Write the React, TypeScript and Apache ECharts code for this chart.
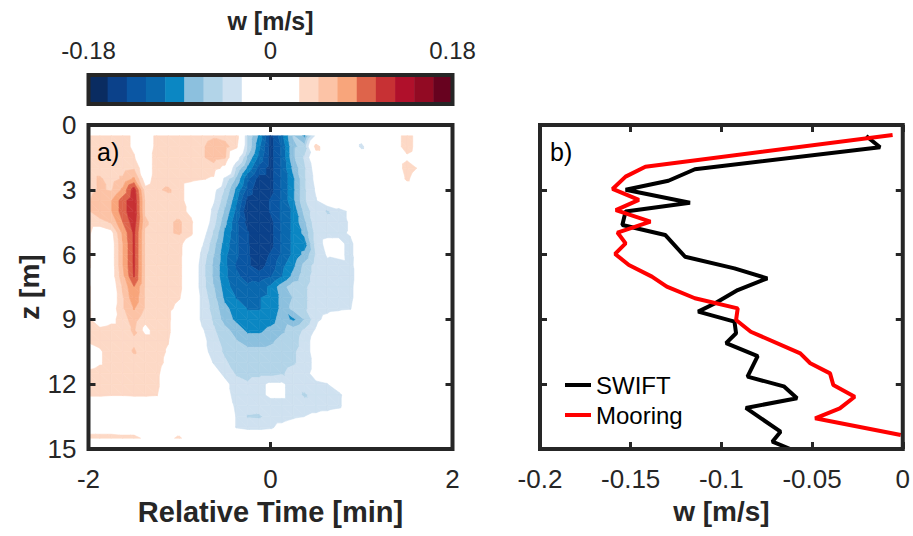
import React, { useEffect, useRef } from "react";
import * as echarts from "echarts";

// ---------- data ----------
// Relative time grid (min) and depth grid (m) of the contoured w field
const timeMin = [-2, -1.875, -1.75, -1.625, -1.5, -1.375, -1.25, -1.125, -1, -0.875, -0.75, -0.625, -0.5, -0.375, -0.25, -0.125, 0, 0.125, 0.25, 0.375, 0.5, 0.625, 0.75, 0.875, 1, 1.125, 1.25, 1.375, 1.5, 1.625, 1.75, 1.875, 2];
const depthM = [0.5, 1, 1.5, 2, 2.5, 3, 3.5, 4, 4.5, 5, 5.5, 6, 6.5, 7, 7.5, 8, 8.5, 9, 9.5, 10, 10.5, 11, 11.5, 12, 12.5, 13, 13.5, 14, 14.5];
// w in cm/s, one row per depth, one column per time
const wGridCm = [
  [4, 4, 4, 3.5, 2.5, 1, 3.5, 4, 4, 4, 4, 4.5, 4, 4.6, -5, -9, -15, -11, -6.5, -9, -2, 0, 0, 0, -1, 0, 0, 1, 4.7, 1, 0, 0, 0],
  [4, 4, 4, 3.5, 2.5, 1, 3.5, 4, 4, 4, 4.5, 5.5, 5.5, 3.5, -5, -10, -15, -12, -7, -6, 4.3, 0, 0, 0, -3.5, 0, 0, 1, 4.7, 1, 0, 0, 0],
  [4, 4, 4, 3.5, 3, 1, 4, 4, 4, 4, 4.5, 5.5, 5, -1, -7, -11, -15, -12, -7, -4.5, 0, 0, 0, 0, 0, 0, 0, 0, 2, 0.5, 0, 0, 0],
  [4, 4, 4, 4, 4.5, 1, 4, 4, 4, 4, 4, 4, 2, -5, -9, -13, -15, -12, -8, -5, -1.5, 0, 0, 0, 0, 0, 0, 0, 4.7, 2.5, 0, 0, 0],
  [4, 5, 4, 5, 7, 1.5, 4, 4, 4, 3.5, 3, 2.5, -3.5, -7, -12, -15, -15, -12, -9, -5, -2, 0, 0, 0, 0, 0, 0, 0, 3.5, 0.5, 0, 0, 0],
  [4, 5, 4.5, 7, 11.5, 3.5, 4.5, 5, 4, 1, 0, -2, -5, -9, -13, -16, -15, -12, -9, -5, -2.5, 0, 0, 0, 0, 0, 0, 0, 0, 0, 0, 0, 0],
  [4.5, 6, 6.5, 9.5, 12, 4.5, 4, 4, 4, 1, 0, -2.5, -6, -10, -15, -16, -14, -12, -9, -5, -3, -0.5, -1, 0, 0, 0, 0, 0, 0, 0, 0, 0, 0],
  [4.5, 6, 6.5, 9.5, 12, 4.5, 4, 4, 4, 2, 0, -3.5, -7, -11, -16, -16, -14, -12, -10, -6, -3.5, -5, -3.5, -2.5, 0, 0, 0, 0, 0, 0, 0, 0, 0],
  [4, 4, 5, 8.5, 11.5, 5, 4, 4.5, 5, 3.5, -0.5, -4, -8, -12, -15, -16, -15, -12, -10, -7, -3.5, -4, -4, -2.5, 0, 0, 0, 0, 0, 0, 0, 0, 0],
  [3.3, 1, 2, 7, 10.8, 4.5, 4, 4.5, 5, 3.5, -1.5, -5, -9, -12, -14, -16, -15, -12, -10, -8, -4, -3.5, -3.5, -2.5, 0, 0, 0, 0, 0, 0, 0, 0, 0],
  [3.3, 0.5, 1.5, 6.5, 10.8, 4.5, 4, 4, 3.5, 1, -2.5, -6, -9.5, -12, -14, -16, -15, -12, -10, -9.5, -4, -2, -2, -3.6, -0.5, 0, 0, 0, 0, 0, 0, 0, 0],
  [3.3, 0.5, 1.5, 6.5, 10.8, 4.5, 4, 4, 3.5, 0.5, -3.5, -6.5, -10, -12, -14, -15.5, -14, -12, -10, -8, -4.5, -2.5, -2, -3.6, -0.5, 0, 0, 0, 0, 0, 0, 0, 0],
  [3.3, 0.5, 1.5, 6.5, 10.8, 4.5, 4, 4, 3.5, 0, -4, -7, -10, -12.5, -14, -15, -13.5, -11, -9, -6, -4, -3.5, -4, -3.5, -1, 0, 0, 0, 0, 0, 0, 0, 0],
  [2.5, 0.5, 1.5, 6, 10.6, 4.5, 4, 4, 3.5, 0, -4, -7, -10, -12, -13, -13.5, -12.5, -10.5, -8, -5.5, -4, -4, -4, -3.5, -1.5, 0, 0, 0, 0, 0, 0, 0, 0],
  [3.3, 0.5, 1, 5, 8.5, 4.5, 4, 4, 3.5, 0, -4, -6.5, -9.5, -11.5, -12, -11.5, -10, -7.5, -5.5, -5, -4, -4, -4, -3.3, -1.5, 0, 0, 0, 0, 0, 0, 0, 0],
  [3.3, 0.5, 1, 4.5, 8, 4.5, 4, 4, 3, 0, -3.5, -6, -9, -10.5, -11, -10.5, -10, -8, -6.5, -5, -4, -4, -4, -3.3, -1.5, 0, 0, 0, 0, 0, 0, 0, 0],
  [3.3, 0.5, 1.5, 4.5, 6.8, 4.5, 4, 3.5, 2, 0, -3.5, -5.5, -8, -9.5, -10.5, -10.5, -10, -8, -6, -5, -4, -3.5, -3.3, -3, -1, 0, 0, 0, 0, 0, 0, 0, 0],
  [3.3, 1, 2, 4, 5.5, 3.5, 4, 3.5, 0.5, 0, -3.5, -5, -7.5, -9, -10, -10, -9.5, -7.5, -9, -6.5, -3.5, -2, -1, 0, 0, 0, 0, 0, 0, 0, 0, 0, 0],
  [3.5, 3.5, 4, 4, 5, 2, 4, 3.5, 0, 0, -2.5, -4.5, -6, -7.5, -9, -9, -8, -7, -5.7, -4.5, -2.5, 0, 0, 0, 0, 0, 0, 0, 0, 0, 0, 0, 0],
  [3, 3.5, 4, 4, 4.5, 4, 4, 3, 0, 0, -2, -4, -5.5, -6.5, -7.5, -7.5, -7, -6, -5.5, -4, -1.5, 0, 0, 0, 0, 0, 0, 0, 0, 0, 0, 0, 0],
  [1.5, 2.5, 4, 4, 4.9, 4, 4, 2.5, 0, 0, -1.5, -4, -5, -6, -6, -6, -6, -5.5, -5, -4, -1.5, 0, 0, 0, 0, 0, 0, 0, 0, 0, 0, 0, 0],
  [1.5, 2.5, 4, 4, 4, 4, 4, 2, 0, 0, -1, -3, -4.5, -5.5, -6, -6, -6, -5.5, -5, -4, -2, 0, 0, 0, 0, 0, 0, 0, 0, 0, 0, 0, 0],
  [3.5, 4, 4, 4, 4, 4, 3.5, 1, 0, 0, 0, -1.5, -3.5, -5, -5.5, -5.5, -5.5, -5, -4, -3.5, -2, 0, 0, 0, 0, 0, 0, 0, 0, 0, 0, 0, 0],
  [3.5, 4, 4, 4, 4, 4, 3.5, 0.5, 0, 0, 0, 0, -2, -4, -4.5, -3.5, -2.3, -2.3, -4, -4, -3.2, -2.9, -1, 0, 0, 0, 0, 0, 0, 0, 0, 0, 0],
  [3.2, 3.2, 3, 3, 3.2, 3.2, 3, 0.5, 0, 0, 0, 0, -1.5, -4, -4.5, -3.5, -2.3, -2.3, -4, -5, -4, -4, -3.5, -1, 0, 0, 0, 0, 0, 0, 0, 0, 0],
  [1, 0, 0, 0, 0, 0, 0, 0, 0, 0, 0, 0, -0.5, -3.5, -4, -4, -4, -4, -4, -4, -4, -4, -3.5, -0.5, 0, 0, 0, 0, 0, 0, 0, 0, 0],
  [0, 0, 0, 0, 0, 0, 0, 0, 0, 0, 0, 0, 0, -3, -4.9, -5, -4, -4, -3.3, -2.8, -2.2, -1.5, -0.5, 0, 0, 0, 0, 0, 0, 0, 0, 0, 0],
  [0, 0, 0, 0, 0, 0, 0, 0, 0, 0, 0, 0, 0, -3, -3.5, -3.5, -3.2, -2, -1, 0, 0, 0, 0, 0, 0, 0, 0, 0, 0, 0, 0, 0, 0],
  [4.5, 4.5, 4.5, 4, 4, 2, 0, 2, 3.5, 0, 0, 0, 0, 0, 0, 0, 0, 0, 0, 0, 0, 0, 0, 0, 0, 0, 0, 0, 0, 0, 0, 0, 0],
];
// contour levels (m/s)
const contourLevels = [-0.18, -0.1611, -0.1421, -0.1232, -0.1042, -0.0853, -0.0663, -0.0474, -0.0284, -0.0095, 0.0095, 0.0284, 0.0474, 0.0663, 0.0853, 0.1042, 0.1232, 0.1421, 0.1611, 0.18];
const colorbarTicks = [-0.18, 0, 0.18];

// Panel b profiles
const swiftW = [-0.0202, -0.0125, -0.1146, -0.1292, -0.1528, -0.1173, -0.1528, -0.1546, -0.131, -0.12, -0.0928, -0.0747, -0.091, -0.1037, -0.1128, -0.0928, -0.0919, -0.0974, -0.08, -0.0856, -0.0656, -0.0583, -0.0865, -0.0674, -0.0719, -0.062];
const swiftZ = [0.51, 1.03, 2.05, 2.58, 3.0, 3.6, 4.0, 4.63, 5.09, 6.1, 6.64, 7.1, 7.64, 8.26, 8.64, 9.1, 9.64, 10.1, 10.7, 11.65, 12.1, 12.65, 13.1, 14.2, 14.66, 15.0];
const mooringW = [-0.0056, -0.1419, -0.1528, -0.16, -0.1455, -0.1582, -0.1391, -0.1573, -0.1528, -0.1586, -0.151, -0.1383, -0.1301, -0.1146, -0.091, -0.0919, -0.0838, -0.0565, -0.051, -0.0401, -0.0383, -0.0265, -0.0347, -0.0483, -0.0011];
const mooringZ = [0.46, 1.93, 2.39, 2.96, 3.47, 3.94, 4.47, 4.98, 5.48, 5.97, 6.48, 7.02, 7.48, 8.02, 8.49, 9.03, 9.57, 10.57, 11.03, 11.5, 12.04, 12.58, 13.12, 13.58, 14.35];

// ---------- styles ----------
const bandColors = ["#0a2c61", "#0b418a", "#0a56a3", "#0a68ae", "#0b87c3", "#8cc0de", "#b2d4e8", "#cfe1f0", "#ffffff", "#ffffff", "#ffffff", "#fdd9c6", "#fcc3a6", "#f8a57b", "#de644b", "#c73134", "#b0102b", "#920a23", "#67021f"];
const FONT = "Liberation Sans, Arial, Helvetica, sans-serif";
const AX = "#262626";

type P = [number, number, number];
function clip(poly: P[], lv: number, above: boolean): P[] {
  const out: P[] = [];
  for (let k = 0; k < poly.length; k++) {
    const a = poly[k];
    const b = poly[(k + 1) % poly.length];
    const ina = above ? a[2] >= lv : a[2] <= lv;
    const inb = above ? b[2] >= lv : b[2] <= lv;
    if (ina) out.push(a);
    if (ina !== inb) {
      const f = (lv - a[2]) / (b[2] - a[2]);
      out.push([a[0] + f * (b[0] - a[0]), a[1] + f * (b[1] - a[1]), lv]);
    }
  }
  return out;
}

export default function App() {
  const ref = useRef<HTMLDivElement>(null);
  useEffect(() => {
    if (!ref.current) return;
    const chart = echarts.init(ref.current, null, { renderer: "svg" });

    const cells: number[][] = [];
    for (let i = 0; i < depthM.length - 1; i++)
      for (let j = 0; j < timeMin.length - 1; j++) cells.push([timeMin[j], depthM[i], j, i]);

    const cbData = bandColors.map((_, k) => [contourLevels[k], 0.5, contourLevels[k + 1], k]);

    const tickStyle = { show: true, inside: true, length: 7, lineStyle: { color: AX, width: 3 } };
    const noLine = { show: false, onZero: false };
    const labelStyle = { fontSize: 26, color: AX, fontFamily: FONT };
    const nameStyle = { fontSize: 28, fontWeight: "bold" as const, color: AX, fontFamily: FONT };
    const gridCommon = { show: true, borderColor: AX, borderWidth: 4, backgroundColor: "transparent", z: 5 };

    const option: any = {
      animation: false,
      textStyle: { fontFamily: FONT },
      grid: [
        { left: 88.5, top: 125, width: 364, height: 324, ...gridCommon },
        { left: 540, top: 125, width: 367, height: 324, ...gridCommon },
        { left: 88.5, top: 75, width: 364, height: 29, ...gridCommon },
      ],
      xAxis: [
        {
          gridIndex: 0, type: "value", min: -2, max: 2, interval: 2, position: "bottom", z: 6,
          axisLine: noLine, axisTick: tickStyle, splitLine: { show: false },
          axisLabel: { ...labelStyle, margin: 17 },
          name: "Relative Time [min]", nameLocation: "middle", nameGap: 48,
          nameTextStyle: { ...nameStyle, fontSize: 29 },
        },
        {
          gridIndex: 0, type: "value", min: -2, max: 2, interval: 2, position: "top", z: 6,
          axisLine: noLine, axisTick: tickStyle, splitLine: { show: false }, axisLabel: { show: false },
        },
        {
          gridIndex: 1, type: "value", min: -0.2, max: 0, interval: 0.05, position: "bottom", z: 6,
          axisLine: noLine, axisTick: tickStyle, splitLine: { show: false },
          axisLabel: { ...labelStyle, margin: 17, formatter: (v: number) => String(Math.round(v * 100) / 100) },
          name: "w [m/s]", nameLocation: "middle", nameGap: 48, nameTextStyle: nameStyle,
        },
        {
          gridIndex: 1, type: "value", min: -0.2, max: 0, interval: 0.05, position: "top", z: 6,
          axisLine: noLine, axisTick: tickStyle, splitLine: { show: false }, axisLabel: { show: false },
        },
        {
          gridIndex: 2, type: "value", min: colorbarTicks[0], max: colorbarTicks[2], interval: 0.18, position: "top", z: 6,
          axisLine: noLine, axisTick: { show: true, inside: true, length: 5, lineStyle: { color: AX, width: 3 } },
          splitLine: { show: false },
          axisLabel: { fontSize: 24, color: AX, fontFamily: FONT, margin: 13, formatter: (v: number) => String(Math.round(v * 100) / 100) },
          name: "w [m/s]", nameLocation: "middle", nameGap: 42,
          nameTextStyle: { fontSize: 25, fontWeight: "bold", color: AX, fontFamily: FONT },
        },
      ],
      yAxis: [
        {
          gridIndex: 0, type: "value", min: 0, max: 15, interval: 3, inverse: true, position: "left", z: 6,
          axisLine: noLine, axisTick: tickStyle, splitLine: { show: false },
          axisLabel: { ...labelStyle, margin: 12 },
          name: "z [m]", nameLocation: "middle", nameGap: 45, nameRotate: 90, nameTextStyle: nameStyle,
        },
        {
          gridIndex: 0, type: "value", min: 0, max: 15, interval: 3, inverse: true, position: "right", z: 6,
          axisLine: noLine, axisTick: tickStyle, splitLine: { show: false }, axisLabel: { show: false },
        },
        {
          gridIndex: 1, type: "value", min: 0, max: 15, interval: 3, inverse: true, position: "left", z: 6,
          axisLine: noLine, axisTick: tickStyle, splitLine: { show: false }, axisLabel: { show: false },
        },
        {
          gridIndex: 1, type: "value", min: 0, max: 15, interval: 3, inverse: true, position: "right", z: 6,
          axisLine: noLine, axisTick: tickStyle, splitLine: { show: false }, axisLabel: { show: false },
        },
        {
          gridIndex: 2, type: "value", min: 0, max: 1, show: false,
        },
      ],
      legend: {
        data: ["SWIFT", "Mooring"], orient: "vertical", left: 565, top: 373, padding: 0,
        icon: "rect", itemWidth: 26, itemHeight: 4, itemGap: 6,
        textStyle: { fontSize: 24, color: "#000", fontFamily: FONT },
      },
      graphic: [
        { type: "text", left: 97, top: 139, z: 20, style: { text: "a)", fontSize: 25, fill: "#000", font: `25px ${FONT}` } },
        { type: "text", left: 550, top: 139, z: 20, style: { text: "b)", fontSize: 25, fill: "#000", font: `25px ${FONT}` } },
      ],
      series: [
        {
          type: "custom", name: "w field", xAxisIndex: 0, yAxisIndex: 0, z: 2,
          encode: { x: 0, y: 1 }, data: cells, silent: true,
          renderItem: (params: any, api: any) => {
            const j = api.value(2) as number;
            const i = api.value(3) as number;
            const corner = (jj: number, ii: number): P => [timeMin[jj], depthM[ii], wGridCm[ii][jj] / 100];
            const a = corner(j, i), b = corner(j + 1, i), c = corner(j + 1, i + 1), d = corner(j, i + 1);
            const tris: P[][] = [[a, b, c], [a, c, d]];
            const children: any[] = [];
            for (const tri of tris) {
              const vs = tri.map((p) => p[2]);
              const vmin = Math.min(...vs), vmax = Math.max(...vs);
              for (let k = 0; k < bandColors.length; k++) {
                const col = bandColors[k];
                if (col === "#ffffff") continue;
                const lo = k === 0 ? -Infinity : contourLevels[k];
                const hi = k === bandColors.length - 1 ? Infinity : contourLevels[k + 1];
                if (vmax < lo || vmin > hi) continue;
                let poly = tri;
                if (lo !== -Infinity) poly = clip(poly, lo, true);
                if (poly.length >= 3 && hi !== Infinity) poly = clip(poly, hi, false);
                if (poly.length < 3) continue;
                const pts = poly.map((p) => api.coord([p[0], p[1]]));
                children.push({
                  type: "polygon", shape: { points: pts },
                  style: { fill: col, stroke: col, lineWidth: 0.6, lineJoin: "round" },
                });
              }
            }
            return { type: "group", children };
          },
        },
        {
          type: "custom", name: "colorbar", xAxisIndex: 4, yAxisIndex: 4, z: 2,
          encode: { x: 0, y: 1 }, data: cbData, silent: true,
          renderItem: (params: any, api: any) => {
            const lo = api.value(0), hi = api.value(2), k = api.value(3);
            const p0 = api.coord([lo, 1]);
            const p1 = api.coord([hi, 0]);
            return {
              type: "rect",
              shape: { x: p0[0], y: p0[1], width: p1[0] - p0[0] + 0.5, height: p1[1] - p0[1] },
              style: { fill: bandColors[k] },
            };
          },
        },
        {
          type: "line", name: "SWIFT", xAxisIndex: 2, yAxisIndex: 2, symbol: "none",
          data: swiftW.map((w, k) => [w, swiftZ[k]]),
          lineStyle: { color: "#000000", width: 4 }, itemStyle: { color: "#000000" },
        },
        {
          type: "line", name: "Mooring", xAxisIndex: 2, yAxisIndex: 2, symbol: "none",
          data: mooringW.map((w, k) => [w, mooringZ[k]]),
          lineStyle: { color: "#ff0000", width: 4 }, itemStyle: { color: "#ff0000" },
        },
      ],
    };
    chart.setOption(option);
    return () => chart.dispose();
  }, []);
  return <div ref={ref} style={{ position: "absolute", left: 0, top: 0, width: 913, height: 536 }} />;
}
